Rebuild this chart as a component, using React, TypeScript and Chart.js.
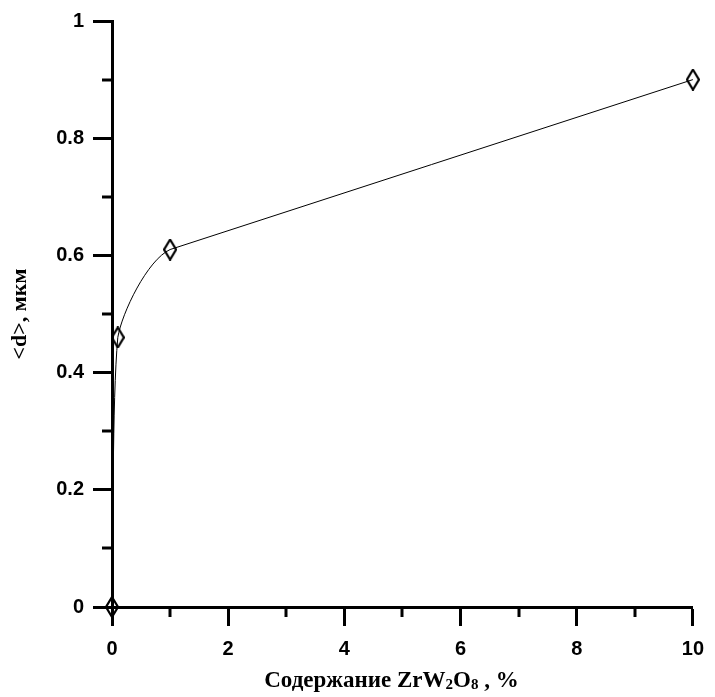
import React, { useEffect, useRef } from 'react';
import { Chart, registerables } from 'chart.js';

Chart.register(...registerables);

// ---- data ----
const contentPct = [0, 0.1, 1, 10];
const grainSize = [0, 0.46, 0.61, 0.9];

const xMajorTicks = [0, 2, 4, 6, 8, 10];
const xMinorTicks = [1, 3, 5, 7, 9];
const yMajorTicks = [0, 0.2, 0.4, 0.6, 0.8, 1];
const yMinorTicks = [0.1, 0.3, 0.5, 0.7, 0.9];

// x title: "Содержание ZrW₂O₈ , %" (parts, subscript flags)
const xTitleParts = ['Содержание ZrW', '2', 'O', '8', ' , %'];
const xTitleSub = [false, true, false, true, false];
const yTitle = '<d>, мкм';

function makeDiamond(): HTMLCanvasElement {
  const c = document.createElement('canvas');
  c.width = 14;
  c.height = 22;
  const ctx = c.getContext('2d')!;
  ctx.lineWidth = 2.2;
  ctx.strokeStyle = '#000';
  ctx.lineJoin = 'miter';
  ctx.beginPath();
  ctx.moveTo(7, 1);
  ctx.lineTo(13, 11);
  ctx.lineTo(7, 21);
  ctx.lineTo(1, 11);
  ctx.closePath();
  ctx.stroke();
  return c;
}

const minorTicksPlugin = {
  id: 'minorTicks',
  afterDraw(chart: any) {
    const { ctx, chartArea } = chart;
    const x = chart.scales.x;
    const y = chart.scales.y;
    ctx.save();
    ctx.strokeStyle = '#000';
    ctx.lineWidth = 3;
    ctx.lineCap = 'butt';
    xMinorTicks.forEach((v) => {
      const px = Math.round(x.getPixelForValue(v));
      ctx.beginPath();
      ctx.moveTo(px, chartArea.bottom);
      ctx.lineTo(px, chartArea.bottom + 10);
      ctx.stroke();
    });
    yMinorTicks.forEach((v) => {
      const py = Math.round(y.getPixelForValue(v));
      ctx.beginPath();
      ctx.moveTo(chartArea.left, py);
      ctx.lineTo(chartArea.left - 10, py);
      ctx.stroke();
    });

    // x-axis title with true subscripts
    const mainFont = 'bold 23px "Liberation Serif", "Times New Roman", serif';
    const subFont = 'bold 15px "Liberation Serif", "Times New Roman", serif';
    let total = 0;
    const widths = xTitleParts.map((t, i) => {
      ctx.font = xTitleSub[i] ? subFont : mainFont;
      const w = ctx.measureText(t).width;
      total += w;
      return w;
    });
    let cx = (chartArea.left + chartArea.right) / 2 - 11 - total / 2;
    const baseY = chart.height - 10;
    ctx.fillStyle = '#000';
    ctx.textAlign = 'left';
    ctx.textBaseline = 'alphabetic';
    xTitleParts.forEach((t, i) => {
      ctx.font = xTitleSub[i] ? subFont : mainFont;
      ctx.fillText(t, cx, xTitleSub[i] ? baseY + 2 : baseY);
      cx += widths[i];
    });
    ctx.restore();
  },
};

export default function App() {
  const ref = useRef<HTMLCanvasElement | null>(null);

  useEffect(() => {
    if (!ref.current) return;
    const pts = contentPct.map((x, i) => ({ x, y: grainSize[i] }));
    const diamond = makeDiamond();
    const tickFont = { family: '"Liberation Sans", Arial, sans-serif', size: 20, weight: 'bold' as const };
    const titleFont = { family: '"Liberation Serif", "Times New Roman", serif', size: 22, weight: 'bold' as const };
    const lastCurved = 1; // segments after this index are drawn straight

    const chart = new Chart(ref.current, {
      type: 'line',
      data: {
        datasets: [
          {
            // smooth curve through all points (only the low-content part is shown)
            data: pts,
            borderColor: '#000',
            borderWidth: 1,
            pointRadius: 0,
            tension: 0.25,
            fill: false,
            segment: {
              borderColor: (c: any) => (c.p0DataIndex > lastCurved ? 'rgba(0,0,0,0)' : '#000'),
            },
          },
          {
            data: pts.slice(lastCurved + 1),
            borderColor: '#000',
            borderWidth: 1,
            pointRadius: 0,
            tension: 0,
            fill: false,
          },
          {
            data: pts,
            showLine: false,
            pointStyle: diamond as any,
            pointRadius: 7,
            clip: false as any,
          },
        ],
      },
      options: {
        responsive: false,
        animation: false,
        layout: { padding: { top: 21, right: 14, left: 0, bottom: 0 } },
        plugins: {
          legend: { display: false },
          tooltip: { enabled: false },
        },
        scales: {
          x: {
            type: 'linear',
            min: 0,
            max: 10,
            afterBuildTicks: (s: any) => {
              s.ticks = xMajorTicks.map((v) => ({ value: v }));
            },
            afterFit: (s: any) => {
              s.height = 90;
            },
            ticks: {
              font: tickFont,
              color: '#000',
              padding: 11,
              maxRotation: 0,
              autoSkip: false,
              callback: (v: any) => String(v),
            },
            grid: {
              drawOnChartArea: false,
              drawTicks: true,
              tickLength: 19,
              tickWidth: 3,
              tickColor: '#000',
            },
            border: { color: '#000', width: 3 },
            title: { display: false },
          },
          y: {
            type: 'linear',
            min: 0,
            max: 1,
            afterBuildTicks: (s: any) => {
              s.ticks = yMajorTicks.map((v) => ({ value: v }));
            },
            afterFit: (s: any) => {
              s.width = 112;
            },
            ticks: {
              font: tickFont,
              color: '#000',
              padding: 9,
              autoSkip: false,
              callback: (v: any) => String(v),
            },
            grid: {
              drawOnChartArea: false,
              drawTicks: true,
              tickLength: 19,
              tickWidth: 3,
              tickColor: '#000',
            },
            border: { color: '#000', width: 3 },
            title: {
              display: true,
              text: yTitle,
              font: titleFont,
              color: '#000',
              padding: { top: 7, bottom: 0 },
            },
          },
        },
      },
      plugins: [minorTicksPlugin],
    });
    return () => chart.destroy();
  }, []);

  return (
    <div style={{ position: 'absolute', left: 0, top: 0, width: 715, height: 697, background: '#fff' }}>
      <canvas ref={ref} width={715} height={697} style={{ display: 'block' }} />
    </div>
  );
}
